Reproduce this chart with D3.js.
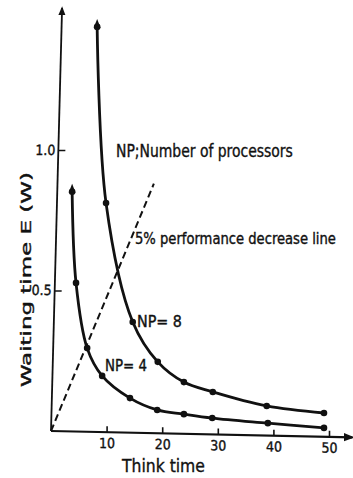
<!DOCTYPE html>
<html>
<head>
<meta charset="utf-8">
<script src="https://cdn.jsdelivr.net/npm/d3@7"></script>
<style>
  body { margin: 0; background: #fff; }
  text { font-family: "DejaVu Sans Condensed", "DejaVu Sans", sans-serif; fill: #111; stroke: #111; stroke-width: 0.35px; }
</style>
</head>
<body>
<div id="viz"></div>
<script>
// values
var thinkTime8 = [8.3, 9.9, 14.7, 19.2, 23.9, 29.1, 38.8, 49.1];
var wait8      = [1.438, 0.811, 0.388, 0.246, 0.174, 0.139, 0.089, 0.064];
var thinkTime4 = [3.8, 4.5, 6.5, 9.2, 14.2, 19.1, 23.9, 29.0, 39.0, 49.1];
var wait4      = [0.851, 0.527, 0.295, 0.196, 0.117, 0.075, 0.060, 0.046, 0.028, 0.011];
// 5% performance decrease line
var dashX = [0, 18.5];
var dashY = [0, 0.88];
var xTicks = [10, 20, 30, 40, 50];
var yTicks = [0.5, 1.0];
var xAxisEnd = 54.2, yAxisEnd = 1.505;

var width = 353, height = 478;

var svg = d3.select("#viz")
  .append("svg")
    .attr("width", width)
    .attr("height", height);

var x = d3.scaleLinear().domain([0, 50]).range([51, 329]);
var y = d3.scaleLinear().domain([0, 1]).range([431, 150]);

// arrow head for the axes
svg.append("defs").append("marker")
    .attr("id", "arr")
    .attr("viewBox", "0 0 10 10")
    .attr("refX", 8).attr("refY", 5)
    .attr("markerWidth", 5).attr("markerHeight", 5)
    .attr("markerUnits", "strokeWidth")
    .attr("orient", "auto")
  .append("path")
    .attr("d", "M0,1 L10,5 L0,9 Z")
    .attr("fill", "#111");

// X axis (slightly tilted as in the scan)
var gx = svg.append("g")
    .attr("transform", "translate(" + x(0) + "," + y(0) + ") skewY(1.2) translate(" + (-x(0)) + ",0)");
gx.call(d3.axisBottom(x).tickValues(xTicks).tickSizeInner(-6).tickSizeOuter(0).tickPadding(6))
    .call(function(g) { g.select(".domain").remove(); });
gx.selectAll(".tick line").attr("stroke", "#111").attr("stroke-width", 1.6);
gx.selectAll(".tick text").style("font-size", "14px").attr("fill", "#111");
gx.append("line")
    .attr("x1", x(0)).attr("x2", x(xAxisEnd))
    .attr("y1", 0).attr("y2", 0)
    .attr("stroke", "#111").attr("stroke-width", 2.2)
    .attr("marker-end", "url(#arr)");

// Y axis
var gy = svg.append("g")
    .attr("transform", "translate(" + x(0) + "," + y(0) + ") skewX(-1.5) translate(0," + (-y(0)) + ")");
gy.call(d3.axisLeft(y).tickValues(yTicks).tickFormat(d3.format(".1f")).tickSizeInner(-7).tickSizeOuter(0).tickPadding(3))
    .call(function(g) { g.select(".domain").remove(); });
gy.selectAll(".tick line").attr("stroke", "#111").attr("stroke-width", 1.4);
gy.selectAll(".tick text").style("font-size", "14px").attr("fill", "#111");
gy.append("line")
    .attr("x1", 0).attr("x2", 0)
    .attr("y1", y(0)).attr("y2", y(yAxisEnd))
    .attr("stroke", "#111").attr("stroke-width", 1.8)
    .attr("marker-end", "url(#arr)");

// dashed line
svg.append("path")
    .datum(d3.zip(dashX, dashY))
    .attr("d", d3.line().x(function(d) { return x(d[0]); }).y(function(d) { return y(d[1]); }))
    .attr("stroke", "#111").attr("stroke-width", 2)
    .attr("stroke-dasharray", "7,4")
    .attr("fill", "none");

var curve = d3.line()
    .x(function(d) { return x(d[0]); })
    .y(function(d) { return y(d[1]); })
    .curve(d3.curveCatmullRom.alpha(0.5));

[[thinkTime8, wait8], [thinkTime4, wait4]].forEach(function(s) {
  var pts = d3.zip(s[0], s[1]);
  svg.append("path")
      .datum(pts)
      .attr("d", curve)
      .attr("stroke", "#111").attr("stroke-width", 2.8)
      .attr("fill", "none");
  svg.selectAll(null)
      .data(pts)
      .enter()
      .append("circle")
      .attr("cx", function(d) { return x(d[0]); })
      .attr("cy", function(d) { return y(d[1]); })
      .attr("r", 3.3)
      .attr("fill", "#111");
  // small arrow head at the top end
  var px = x(pts[0][0]), py = y(pts[0][1]);
  svg.append("path")
      .attr("d", "M" + (px - 3.5) + "," + (py + 1) + " L" + px + "," + (py - 8) + " L" + (px + 3.5) + "," + (py + 1) + " Z")
      .attr("fill", "#111");
});

// labels: narrow the text with a scale so it spans the same width as in the scan
function label(t, lx, ly, len, size, rot) {
  var txt = svg.append("text")
      .style("font-size", size + "px")
      .text(t);
  var w = txt.node().getComputedTextLength();
  txt.attr("transform", "translate(" + lx + "," + ly + ")" + (rot ? " rotate(-90)" : "") +
      " scale(" + (len / w) + ",1)");
  return txt;
}
label("NP;Number of processors", 116, 157, 177, 17);
label("5% performance decrease line", 135, 244, 201, 15);
label("NP= 8", 137, 327, 45, 15);
label("NP= 4", 105, 371, 42, 15);
label("Think time", 122, 472, 83, 18);
label("Waiting  time   E (W)", 31, 387, 215, 14, true);
</script>
</body>
</html>
